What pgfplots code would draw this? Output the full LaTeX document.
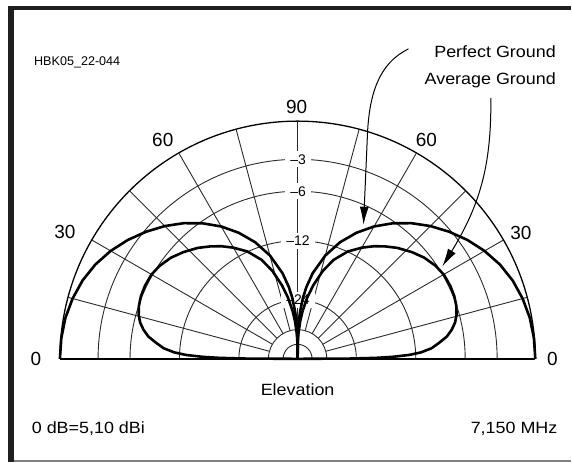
\documentclass[border=0pt]{standalone}
\usepackage{fontspec}
\setmainfont{Liberation Sans}
\newfontfamily\widefont[FakeStretch=1.1]{Liberation Sans}
\usepackage{pgfplots}
\usepackage{pgfplotstable}
\pgfplotsset{compat=1.18}
\usetikzlibrary{arrows.meta}
\definecolor{gridc}{HTML}{2A2A2A}
\pgfdeclarelayer{bg}
\pgfsetlayers{bg,main}

% Perfect ground: elevation (deg), radius on ARRL log scale (1 = 0 dB)
\pgfplotstableread{
el r
0 1.0
5 0.998
10 0.992
15 0.980
20 0.963
25 0.939
30 0.908
35 0.872
40 0.832
45 0.790
50 0.745
55 0.696
60 0.643
65 0.585
70 0.522
75 0.450
80 0.366
83 0.305
85 0.258
87 0.199
88 0.162
89 0.114
89.5 0.080
90 0
}\perfect

% Average ground
\pgfplotstableread{
el r
0 0
0.3 0.22
0.7 0.33
1.2 0.40
2 0.47
3 0.52
4.5 0.565
6.5 0.600
8.5 0.635
10.7 0.660
13 0.680
15.5 0.694
18.5 0.704
21.8 0.710
25.5 0.712
29.9 0.710
34 0.700
38.6 0.682
43 0.658
48 0.628
52 0.600
55.8 0.573
60 0.540
65 0.498
70 0.443
74 0.385
78 0.316
81 0.262
84 0.203
86 0.160
88 0.110
89 0.080
90 0
}\average

\begin{document}
\begin{tikzpicture}
\begin{axis}[x=238pt, y=238pt, hide axis, xmin=-1.15, xmax=1.15, ymin=-0.1, ymax=1.12, clip=false]
  \coordinate (O) at (axis cs:0,0);
  \addplot[black, line width=2.6pt, line join=round, no markers]
    table[x expr={\thisrow{r}*cos(\thisrow{el})}, y expr={\thisrow{r}*sin(\thisrow{el})}] {\perfect};
  \addplot[black, line width=2.6pt, line join=round, no markers]
    table[x expr={-\thisrow{r}*cos(\thisrow{el})}, y expr={\thisrow{r}*sin(\thisrow{el})}] {\perfect};
  \addplot[black, line width=2.6pt, line join=round, no markers]
    table[x expr={\thisrow{r}*cos(\thisrow{el})}, y expr={\thisrow{r}*sin(\thisrow{el})}] {\average};
  \addplot[black, line width=2.6pt, line join=round, no markers]
    table[x expr={-\thisrow{r}*cos(\thisrow{el})}, y expr={\thisrow{r}*sin(\thisrow{el})}] {\average};
\end{axis}

\begin{scope}[shift={(O)}, x=1pt, y=1pt, shift={(-298,-103.7)}]
\path (0,0) rectangle (572,463);
\begin{pgfonlayer}{bg}
\begin{scope}[shift={(298,103.7)}]
  \foreach \r in {199.8,167.8,118.3,58.8,29.2,14.5}
    \draw[gridc, line width=0.9pt] (\r,0) arc[start angle=0,end angle=180,radius=\r pt];
  \draw[black, line width=1.3pt] (238,0) arc[start angle=0,end angle=180,radius=238pt];
  \foreach \a in {15,30,45,60,75,105,120,135,150,165}
    \draw[gridc, line width=0.9pt] (\a:29.2pt) -- (\a:238pt);
  \draw[gridc, line width=0.9pt] (0,0) -- (0,238);
  \draw[black, line width=1.8pt] (-238,0) -- (238,0);
  \tikzset{dbl/.style={fill=white, inner xsep=5pt, inner ysep=3pt, font=\fontsize{14}{14}\selectfont}}
  \node[dbl] at (0.5,199.8) {\textendash3};
  \node[dbl] at (0.5,167.8) {\textendash6};
  \node[dbl] at (0.5,118.3) {\textendash12};
  \node[dbl] at (0.5,58.8) {\textendash24};
\end{scope}
\end{pgfonlayer}

% frame
\fill[black!88] (8,0) rectangle (14,456.5);
\fill[black!88] (8,452.5) rectangle (572,456.5);
\draw[black!50, line width=1.5pt] (14,1.3) -- (572,1.3);

% angle labels
\tikzset{angl/.style={font=\fontsize{19}{19}\selectfont, inner sep=0pt}}
\node[angl] at (297,356.3) {90};
\node[angl] at (163,323) {60};
\node[angl] at (427,323) {60};
\node[angl] at (65,230.7) {30};
\node[angl] at (521.5,229.7) {30};
\node[angl] at (36,104) {0};
\node[angl] at (553,104) {0};

% annotation arrows
\draw[black, line width=1pt, -{Latex[length=18pt,width=9pt]}]
  (409,414) .. controls (380,400) and (370,370) .. (368,330) -- (364,238);
\draw[black, line width=1pt, -{Latex[length=18pt,width=9pt]}]
  (491.5,365) .. controls (492,300) and (482,260) .. (443,196.3);

% texts
\node[anchor=base west, inner sep=0pt, font=\fontsize{12.6}{14}\selectfont] at (34,397.3) {HBK05\_22-044};
\node[anchor=base east, inner sep=0pt, font=\widefont\fontsize{16.3}{18}\selectfont] at (556.7,405.7) {Perfect Ground};
\node[anchor=base east, inner sep=0pt, font=\widefont\fontsize{16.3}{18}\selectfont] at (556.7,378) {Average Ground};
\node[anchor=base, inner sep=0pt, font=\widefont\fontsize{16.3}{18}\selectfont] at (298,66.5) {Elevation};
\node[anchor=base west, inner sep=0pt, font=\widefont\fontsize{16.3}{18}\selectfont] at (31.7,29) {0 dB=5,10 dBi};
\node[anchor=base east, inner sep=0pt, font=\widefont\fontsize{16.3}{18}\selectfont] at (558.3,29) {7,150 MHz};
\end{scope}
\end{tikzpicture}
\end{document}
